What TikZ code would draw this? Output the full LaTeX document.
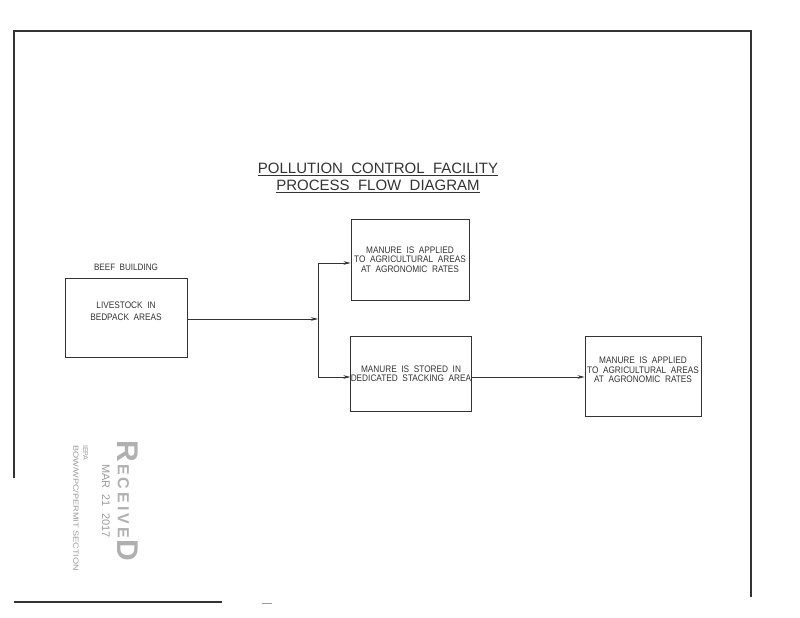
\documentclass[tikz,border=0pt]{standalone}
\usepackage{fontspec}
\setmainfont{Liberation Sans}
\usetikzlibrary{arrows.meta}
\definecolor{ink}{HTML}{333333}
\definecolor{stampink}{HTML}{9A9A9A}
\definecolor{stamplight}{HTML}{B0B0B0}
\newcommand{\sx}[1]{\scalebox{0.87}[1]{#1}}
\tikzset{
  box/.style={draw=ink, line width=0.8pt, minimum width=#1, align=center, text=ink,
              font=\fontsize{9.5}{9.4}\selectfont, inner sep=0pt},
  flow/.style={draw=ink, line width=0.7pt},
  flowarrow/.style={flow, -{Stealth[length=7pt,width=3.6pt]}},
  frame/.style={draw=ink, line width=1.3pt},
  lbl/.style={text=ink, font=\fontsize{9.3}{9}\selectfont, inner sep=0pt},
  stamp/.style={text=stampink, rotate=-90, inner sep=0pt}
}
\begin{document}
\begin{tikzpicture}[x=1pt,y=1pt]
\useasboundingbox (0,0) rectangle (800,618);
% frame
\draw[frame] (14,140) -- (14,587) -- (751,587) -- (751,21);
\draw[frame] (14,16) -- (222,16);
\draw[draw=stampink, line width=0.8pt] (262,15) -- (272,15);
% title
\node[text=ink, font=\fontsize{15}{16.5}\selectfont, align=center, inner sep=0pt] (title) at (378,440)
  {\underline{POLLUTION\ \ CONTROL\ \ FACILITY}\\ \underline{PROCESS\ \ FLOW\ \ DIAGRAM}};
% boxes
\node[box=122pt, minimum height=79pt] (beef) at (126,300.5) {\sx{LIVESTOCK\ \ IN}\\[2pt]\sx{BEDPACK\ \ AREAS}\\[3pt]};
\node[lbl] (beeflbl) at (126,351) {\sx{BEEF\ \ BUILDING}};
\node[box=118pt, minimum height=81pt] (top) at (410,358.5) {\sx{MANURE\ \ IS\ \ APPLIED}\\\sx{TO\ \ AGRICULTURAL\ \ AREAS}\\\sx{AT\ \ AGRONOMIC\ \ RATES}};
\node[box=120pt, minimum height=75pt] (mid) at (411,244.5) {\sx{MANURE\ \ IS\ \ STORED\ \ IN}\\\sx{DEDICATED\ \ STACKING\ \ AREA}};
\node[box=116pt, minimum height=80pt] (right) at (643,242) {\sx{MANURE\ \ IS\ \ APPLIED}\\\sx{TO\ \ AGRICULTURAL\ \ AREAS}\\\sx{AT\ \ AGRONOMIC\ \ RATES}\\[3pt]};
% connectors
\coordinate (j1) at (318,355);
\coordinate (j2) at (318,241);
\draw[flowarrow] (beef.east |- 0,299) -- (j1 |- 0,299);
\draw[flow] (j1) -- (j2);
\draw[flowarrow] (j1) -- (j1 -| top.west);
\draw[flowarrow] (j2) -- (j2 -| mid.west);
\draw[flowarrow] (j2 -| mid.east) -- (j2 -| right.west);
% stamp
\node[stamp, text=stamplight, font=\bfseries] (rcv) at (128,117)
  {{\fontsize{30}{30}\selectfont R}\hspace{2pt}{\fontsize{16}{16}\selectfont E\hspace{3pt}C\hspace{3pt}E\hspace{3pt}I\hspace{3pt}V\hspace{3pt}E}\hspace{2pt}{\fontsize{30}{30}\selectfont D}};
\node[stamp, font=\fontsize{11}{11}\selectfont] (date) at (106,117) {MAR\ \ 21\ \ 2017};
\node[stamp, font=\fontsize{7}{7}\selectfont, anchor=south west] (iepa) at (83,173) {IEPA};
\node[stamp, font=\fontsize{7.5}{7.5}\selectfont, anchor=south west] (bow) at (73,173) {\scalebox{1.22}[1]{BOW/WPC/PERMIT SECTION}};
\end{tikzpicture}
\end{document}
